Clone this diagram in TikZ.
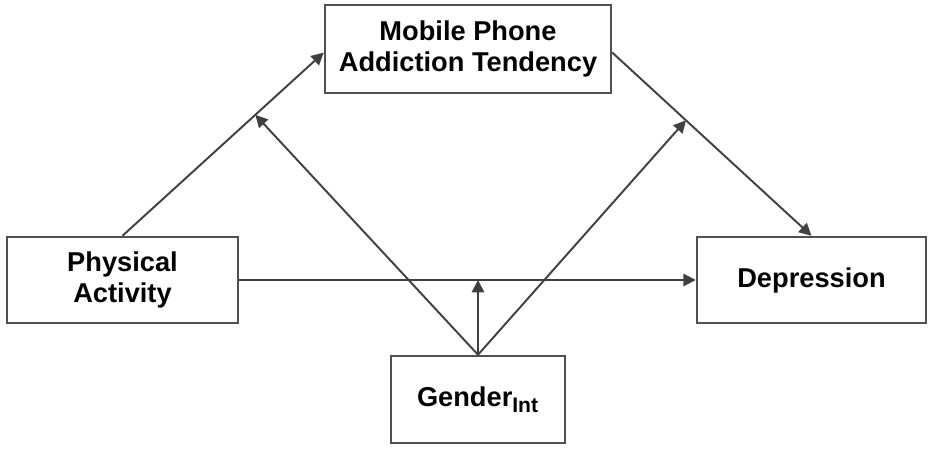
\documentclass[tikz,border=0pt]{standalone}
\usepackage{fontspec}
\setmainfont{Liberation Sans}
\usetikzlibrary{arrows.meta}
\usetikzlibrary{positioning}

\definecolor{linegray}{HTML}{404040}
\definecolor{boxgray}{HTML}{505050}

\tikzset{
	varbox/.style={draw=boxgray, line width=1.4pt, fill=white, align=center, inner sep=0pt,
		font=\bfseries\fontsize{15.5}{17.6}\selectfont},
	arr/.style={draw=linegray, line width=1.1pt, -{Triangle[length=7pt, width=7pt]}}
}

\begin{document}
\begin{tikzpicture}
		
		\useasboundingbox (0,0) rectangle (18.7,9);
		
		\node[varbox, minimum width=5.72cm, minimum height=1.76cm] (mpat) at (9.36,8.02) {Mobile Phone\\Addiction Tendency};
		\node[varbox, minimum width=4.62cm, minimum height=1.72cm] (pa) at (2.45,3.4) {Physical\\Activity};
		\node[varbox, minimum width=4.58cm, minimum height=1.72cm] (dep) at (16.23,3.4) {Depression};
		\node[varbox, minimum width=3.48cm, minimum height=1.74cm] (gen) at (9.56,1.01) {Gender\textsubscript{\fontsize{12}{12}\selectfont Int}};
		
		\draw[arr] (pa.north) -- coordinate[pos=0.66] (pm) ([yshift=-2pt]mpat.west);
		\draw[arr] ([yshift=-2pt]mpat.east) -- coordinate[pos=0.37] (md) (dep.north);
		\draw[arr] (pa.east) -- (dep.west);
		
		\draw[arr] (gen.north) -- (pm);
		\draw[arr] (gen.north) -- (md);
		\draw[arr] (gen.north) -- (gen.north |- pa.east);
		
	\end{tikzpicture}
\end{document}
